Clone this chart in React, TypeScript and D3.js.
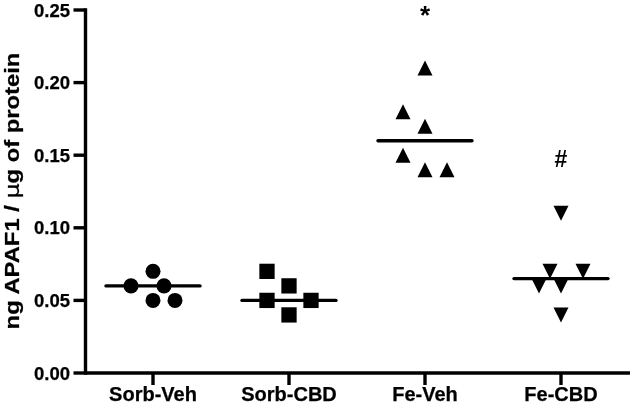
import React from "react";
import * as d3 from "d3";

const categories = ["Sorb-Veh", "Sorb-CBD", "Fe-Veh", "Fe-CBD"];
const sorbVeh = [0.07, 0.06, 0.06, 0.05, 0.05];
const sorbVehSlots = [0, -1, 0.5, 0, 1];
const sorbCbd = [0.07, 0.06, 0.05, 0.05, 0.04];
const sorbCbdSlots = [-1, 0, -1, 1, 0];
const feVeh = [0.21, 0.18, 0.17, 0.15, 0.14, 0.14];
const feVehSlots = [0, -1, 0, -1, 0, 1];
const feCbd = [0.11, 0.07, 0.07, 0.06, 0.06, 0.04];
const feCbdSlots = [0, -0.5, 1, -1, 0, 0];
const medians = [0.06, 0.05, 0.16, 0.065];
const yTicks = [0, 0.05, 0.1, 0.15, 0.2, 0.25];
const annotations = [
  { category: "Fe-Veh", text: "*", value: 0.2468, size: 26 },
  { category: "Fe-CBD", text: "#", value: 0.1476, size: 23 },
];

const W = 633, H = 405;
const FONT = "'Liberation Sans', Arial, sans-serif";
const y = d3.scaleLinear().domain([0, 0.25]).range([373, 10]);
const x = d3.scalePoint<string>().domain(categories).range([153, 561]);
const slot = d3.scaleLinear().domain([-1, 1]).range([-22, 22]);

// Triangle centred on its bounding box, as wide as it is tall
const boxTriangle: d3.SymbolType = {
  draw(ctx, size) {
    const r = Math.sqrt(size) / 2;
    ctx.moveTo(0, -r);
    ctx.lineTo(r, r);
    ctx.lineTo(-r, r);
    ctx.closePath();
  },
};

const shapes: [number[], number[], d3.SymbolType, number][] = [
  [sorbVeh, sorbVehSlots, d3.symbolCircle, 177],
  [sorbCbd, sorbCbdSlots, d3.symbolSquare, 234],
  [feVeh, feVehSlots, boxTriangle, 225],
  [feCbd, feCbdSlots, boxTriangle, 225],
];

export default function App() {
  return (
    <svg width={W} height={H} viewBox={`0 0 ${W} ${H}`}
      style={{ position: "absolute", left: 0, top: 0, background: "#fff" }} fontFamily={FONT} fontWeight="bold">
      <defs>
        <filter id="soft" x="0" y="0" width="100%" height="100%" filterUnits="userSpaceOnUse" primitiveUnits="userSpaceOnUse">
          <feGaussianBlur stdDeviation="0.35" />
        </filter>
      </defs>
      <g filter="url(#soft)">
        <g stroke="#000" strokeWidth={3.4} fill="none">
          <line x1={85.5} x2={85.5} y1={y(0.25) - 1.7} y2={y(0) + 1.7} />
          <line x1={85.5} x2={630} y1={y(0)} y2={y(0)} />
          {yTicks.map((t) => <line key={t} x1={73.5} x2={85.5} y1={y(t)} y2={y(t)} />)}
          {categories.map((c) => <line key={c} x1={x(c)} x2={x(c)} y1={y(0)} y2={385} />)}
        </g>
        <g fill="#000" stroke="#000" strokeWidth={0.25}>
          {yTicks.map((t) => (
            <text key={t} x={70} y={y(t)} dy="0.36em" textAnchor="end" fontSize={18.5}>{t.toFixed(2)}</text>
          ))}
          {categories.map((c) => (
            <text key={c} x={x(c)} y={400.7} textAnchor="middle" fontSize={20}>{c}</text>
          ))}
          <text transform="translate(18.5,191) rotate(-90) scale(1.19,1)" textAnchor="middle" fontSize={20}>
            ng APAF1 / <tspan fontFamily="'DejaVu Sans'" fontWeight="normal">µ</tspan>g of protein
          </text>
        </g>
        {categories.map((c, i) => (
          <line key={c} x1={x(c)! - 47} x2={x(c)! + 47} y1={y(medians[i])} y2={y(medians[i])}
            stroke="#000" strokeWidth={3.4} strokeLinecap="round" />
        ))}
        {shapes.map(([vals, slots, type, size], i) =>
          vals.map((v, j) => {
            const flip = i === 3 ? -1 : 1;
            return (
              <path key={`${i}-${j}`} d={d3.symbol().type(type).size(size)()!}
                transform={`translate(${x(categories[i])! + slot(slots[j])},${y(v)}) scale(1,${flip})`}
                fill="#000" />
            );
          })
        )}
        {annotations.map((a) => (
          <text key={a.text} x={x(a.category)} y={y(a.value)} dy="0.36em" textAnchor="middle" fontSize={a.size} fill="#000">{a.text}</text>
        ))}
      </g>
    </svg>
  );
}
